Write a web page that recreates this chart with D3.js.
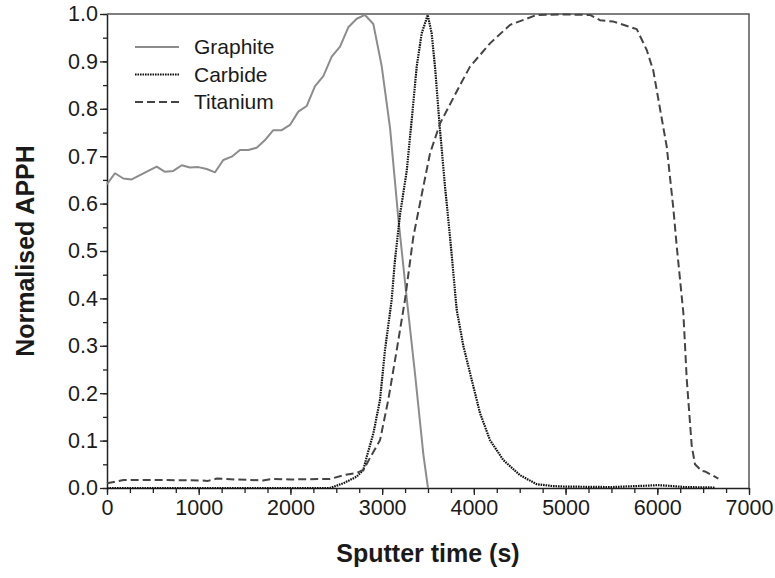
<!DOCTYPE html>
<html>
<head>
<meta charset="utf-8">
<script src="https://cdn.jsdelivr.net/npm/d3@7"></script>
<style>
  html, body { margin: 0; padding: 0; background: #fff; }
  #viz_container { width: 775px; height: 578px; }
  text { font-family: "Liberation Sans", Arial, sans-serif; fill: #1a1a1a; }
</style>
</head>
<body>
<div id="viz_container"></div>
<script>
// Sputter time (s) and normalised APPH
const graphiteTime = [0, 87, 178, 269, 360, 450, 542, 632, 723, 815, 905, 996, 1087, 1178, 1268, 1360, 1450, 1541, 1632, 1723, 1813, 1905, 1995, 2086, 2178, 2268, 2359, 2450, 2541, 2631, 2723, 2813, 2904, 2995, 3086, 3176, 3268, 3359, 3450, 3500];
const graphiteValue = [0.641, 0.664, 0.653, 0.651, 0.660, 0.669, 0.678, 0.667, 0.669, 0.681, 0.676, 0.677, 0.673, 0.666, 0.692, 0.699, 0.713, 0.713, 0.718, 0.734, 0.755, 0.755, 0.766, 0.794, 0.806, 0.848, 0.869, 0.910, 0.931, 0.972, 0.990, 0.998, 0.979, 0.890, 0.760, 0.570, 0.400, 0.240, 0.070, 0.0];

const carbideTime = [0, 500, 1000, 1500, 2000, 2432, 2577, 2723, 2795, 2832, 2904, 2977, 3031, 3104, 3140, 3195, 3268, 3322, 3377, 3431, 3497, 3540, 3576, 3631, 3686, 3740, 3813, 3885, 3977, 4067, 4176, 4321, 4503, 4685, 4866, 5000, 5500, 5900, 6000, 6100, 6300, 6630];
const carbideValue = [0.0, 0.0, 0.0, 0.0, 0.0, 0.0, 0.010, 0.024, 0.038, 0.066, 0.115, 0.186, 0.291, 0.397, 0.481, 0.577, 0.669, 0.776, 0.889, 0.959, 0.998, 0.959, 0.889, 0.755, 0.635, 0.530, 0.376, 0.300, 0.228, 0.158, 0.101, 0.059, 0.027, 0.008, 0.004, 0.003, 0.002, 0.005, 0.006, 0.005, 0.002, 0.001];

const titaniumTime = [0, 180, 500, 1000, 1100, 1200, 1400, 1700, 1800, 2000, 2300, 2432, 2577, 2723, 2795, 2886, 2977, 3067, 3159, 3249, 3340, 3413, 3522, 3631, 3849, 3958, 4176, 4394, 4685, 5000, 5266, 5375, 5521, 5776, 5885, 5957, 6030, 6103, 6175, 6212, 6284, 6321, 6375, 6411, 6484, 6520, 6666];
const titaniumValue = [0.010, 0.017, 0.017, 0.016, 0.015, 0.020, 0.018, 0.016, 0.019, 0.018, 0.019, 0.019, 0.027, 0.032, 0.038, 0.070, 0.101, 0.186, 0.291, 0.397, 0.530, 0.601, 0.706, 0.769, 0.850, 0.889, 0.938, 0.977, 0.998, 0.999, 0.998, 0.987, 0.984, 0.968, 0.924, 0.880, 0.800, 0.720, 0.590, 0.510, 0.370, 0.230, 0.090, 0.050, 0.036, 0.035, 0.020];

const seriesNames = ["Graphite", "Carbide", "Titanium"];
const xTicks = [0, 1000, 2000, 3000, 4000, 5000, 6000, 7000];
const yTicks = [0, 0.1, 0.2, 0.3, 0.4, 0.5, 0.6, 0.7, 0.8, 0.9, 1.0];

const width = 775;
const height = 578;

const svg = d3
  .select("#viz_container")
  .append("svg")
  .attr("width", width)
  .attr("height", height)
  .attr("viewBox", `0 0 ${width} ${height}`);

const x = d3.scaleLinear().domain([0, 7000]).range([107, 749]);
const y = d3.scaleLinear().domain([0, 1]).range([488, 14]);

// frame on top and right
svg.append("path")
  .attr("d", `M${x(0)},${y(1)}H${x(7000)}V${y(0)}`)
  .attr("fill", "none")
  .attr("stroke", "#555")
  .attr("stroke-width", 1.5);

// minor ticks
svg.append("g")
  .attr("transform", `translate(0,${y(0)})`)
  .call(d3.axisBottom(x).tickValues(d3.range(0, 7001, 250)).tickSize(5).tickFormat(""))
  .call((g) => g.select(".domain").remove())
  .call((g) => g.selectAll("line").attr("stroke", "#222").attr("stroke-width", 1.3));

svg.append("g")
  .attr("transform", `translate(${x(0)},0)`)
  .call(d3.axisLeft(y).tickValues(d3.range(0, 1.001, 0.05)).tickSize(4).tickFormat(""))
  .call((g) => g.select(".domain").remove())
  .call((g) => g.selectAll("line").attr("stroke", "#222").attr("stroke-width", 1.3));

// major axes
const xAxis = svg.append("g")
  .attr("transform", `translate(0,${y(0)})`)
  .call(d3.axisBottom(x).tickValues(xTicks).tickSize(7).tickSizeOuter(0).tickPadding(5).tickFormat(d3.format("d")));

const yAxis = svg.append("g")
  .attr("transform", `translate(${x(0)},0)`)
  .call(d3.axisLeft(y).tickValues(yTicks).tickSize(7).tickSizeOuter(0).tickPadding(2).tickFormat(d3.format(".1f")));

[xAxis, yAxis].forEach((g) => {
  g.select(".domain").attr("stroke", "#222").attr("stroke-width", 1.5);
  g.selectAll("line").attr("stroke", "#222").attr("stroke-width", 1.3);
  g.selectAll("text")
    .attr("font-size", 21.5)
    .attr("fill", "#1a1a1a");
});

// axis titles
svg.append("text")
  .attr("x", (x(0) + x(7000)) / 2)
  .attr("y", 562)
  .attr("text-anchor", "middle")
  .attr("font-size", 25)
  .attr("font-weight", "bold")
  .text("Sputter time (s)");

svg.append("text")
  .attr("transform", `translate(34,${(y(0) + y(1)) / 2}) rotate(-90)`)
  .attr("text-anchor", "middle")
  .attr("font-size", 25)
  .attr("font-weight", "bold")
  .text("Normalised APPH");

// series
const styles = [
  { color: "#8c8c8c", dash: null, width: 2 },
  { color: "#111", dash: "1.6,0.9", width: 2.2 },
  { color: "#444", dash: "8,4", width: 2 }
];

const seriesData = [
  graphiteTime.map((t, i) => [t, graphiteValue[i]]),
  carbideTime.map((t, i) => [t, carbideValue[i]]),
  titaniumTime.map((t, i) => [t, titaniumValue[i]])
];

const lineGen = d3.line().x((d) => x(d[0])).y((d) => y(d[1]));

const lines = svg.append("g");
seriesData.forEach((data, i) => {
  lines.append("path")
    .datum(data)
    .attr("fill", "none")
    .attr("stroke", styles[i].color)
    .attr("stroke-width", styles[i].width)
    .attr("stroke-dasharray", styles[i].dash)
    .attr("stroke-linejoin", "round")
    .attr("d", lineGen);
});

// legend
const legend = svg.append("g");
seriesNames.forEach((name, i) => {
  const ly = 47 + i * 27.5;
  legend.append("line")
    .attr("x1", 135).attr("x2", 179)
    .attr("y1", ly).attr("y2", ly)
    .attr("stroke", styles[i].color)
    .attr("stroke-width", styles[i].width)
    .attr("stroke-dasharray", styles[i].dash);
  legend.append("text")
    .attr("x", 194)
    .attr("y", ly)
    .attr("dy", "0.35em")
    .attr("font-size", 21)
    .text(name);
});
</script>
</body>
</html>
